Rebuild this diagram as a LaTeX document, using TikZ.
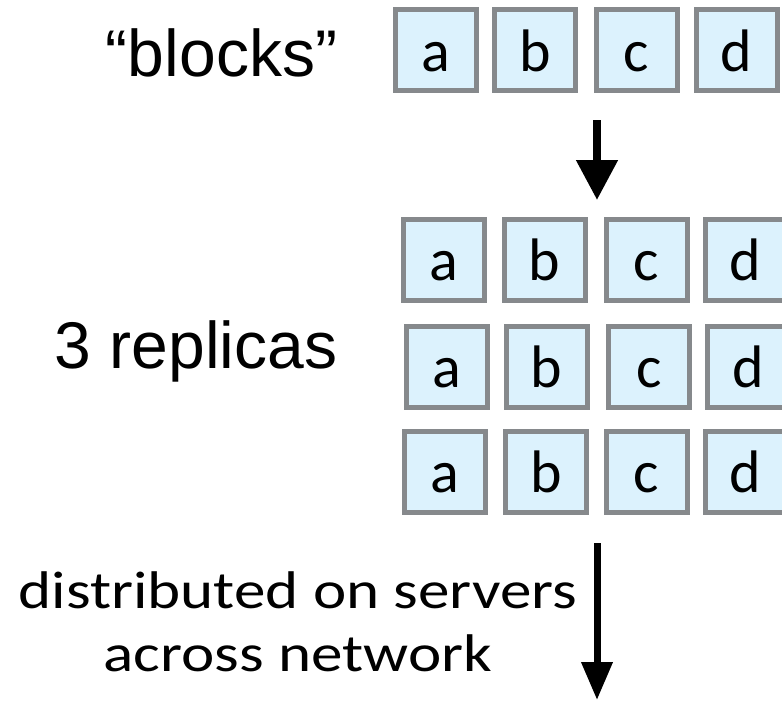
\documentclass[tikz,border=0pt]{standalone}
\usepackage{fontspec}
\usetikzlibrary{arrows.meta}
\newfontfamily\boxfont{Carlito}
\newfontfamily\widefont[FakeStretch=1.19]{Carlito}
\newfontfamily\labelfont{Liberation Sans}
\definecolor{blockfill}{HTML}{DCF2FD}
\definecolor{blockedge}{HTML}{86898C}
\tikzset{
  blockbox/.style={draw=blockedge, fill=blockfill, line width=5pt,
    minimum width=81pt, minimum height=81pt, inner sep=0pt,
    text height=42pt, text depth=0pt,
    font=\boxfont\fontsize{60}{70}\selectfont},
  biglabel/.style={anchor=base, inner sep=0pt,
    font=\labelfont\fontsize{66}{78}\selectfont},
  notelabel/.style={anchor=base, inner sep=0pt,
    font=\widefont\fontsize{53}{64}\selectfont},
  flowarrow/.style={line width=8pt, -{Triangle[width=40pt,length=40pt]}},
}
\begin{document}
\begin{tikzpicture}[x=1pt, y=-1pt]
\useasboundingbox (0,0) rectangle (782,701);
\clip (0,0) rectangle (782,701);

% original blocks
\node[biglabel] (lblocks) at (221.5,77) {“blocks”};
\node[blockbox] (ta) at (435.5,50) {a};
\node[blockbox] (tb) at (535,50) {b};
\node[blockbox] (tc) at (636.5,50) {c};
\node[blockbox] (td) at (736.5,50) {d};

% replication step
\coordinate (r1s) at (597,120);
\coordinate (r1e) at (597,200);
\draw[flowarrow] (r1s) -- (r1e);

% three replicas
\node[biglabel] (lrep) at (196,368) {3 replicas};
\node[blockbox] (r1a) at (444,259.5) {a};
\node[blockbox] (r1b) at (544.5,259.5) {b};
\node[blockbox] (r1c) at (646.5,259.5) {c};
\node[blockbox] (r1d) at (745.5,259.5) {d};
\node[blockbox] (r2a) at (447,366.5) {a};
\node[blockbox] (r2b) at (546.5,366.5) {b};
\node[blockbox] (r2c) at (649,366.5) {c};
\node[blockbox] (r2d) at (748,366.5) {d};
\node[blockbox] (r3a) at (445,471.5) {a};
\node[blockbox] (r3b) at (546,471.5) {b};
\node[blockbox] (r3c) at (646.5,471.5) {c};
\node[blockbox] (r3d) at (745.5,471.5) {d};

% distribution step
\node[notelabel] (ldist1) at (298,608) {distributed on servers};
\node[notelabel] (ldist2) at (298,671) {across network};
\coordinate (d1s) at (597,543);
\coordinate (d1e) at (597,700);
\draw[line width=7pt, -{Triangle[width=30pt,length=38pt]}] (d1s) -- (d1e);
\end{tikzpicture}
\end{document}
